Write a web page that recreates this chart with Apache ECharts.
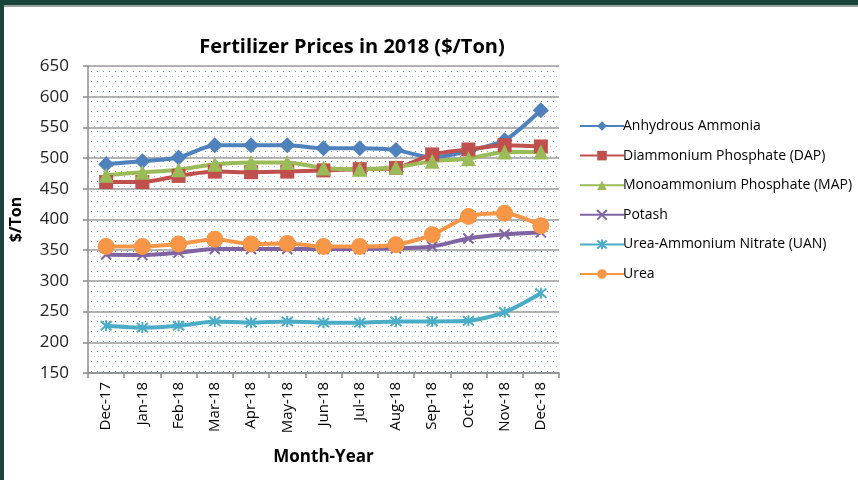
<!DOCTYPE html>
<html>
<head>
<meta charset="utf-8">
<script src="https://cdn.jsdelivr.net/npm/echarts@6/dist/echarts.min.js"></script>
<style>
html,body{margin:0;padding:0;background:#fff;}
#c{width:858px;height:480px;}
</style>
</head>
<body>
<div id="c"></div>
<script>
var categories = ['Dec-17','Jan-18','Feb-18','Mar-18','Apr-18','May-18','Jun-18','Jul-18','Aug-18','Sep-18','Oct-18','Nov-18','Dec-18'];
var anhydrousAmmonia = [490, 495, 501, 521, 521, 521, 516, 516, 513, 501, 512, 529, 578];
var dap = [461, 461, 471, 478, 477, 478, 480, 482, 484, 506, 514, 521, 519];
var map = [472, 477, 481, 490, 493, 493, 484, 482, 485, 495, 499, 510, 510];
var potash = [343, 342, 346, 352, 352, 352, 352, 352, 353, 356, 369, 376, 379];
var uan = [227, 224, 227, 234, 232, 234, 232, 232, 234, 234, 235, 249, 280];
var urea = [356, 356, 360, 368, 360, 361, 356, 356, 359, 375, 405, 410, 390];
var yTicks = {min:150, max:650, interval:50};

var FONT = '"Open Sans", "Noto Sans", sans-serif';

// dotted plot background pattern
var pc = document.createElement('canvas');
pc.width = 12; pc.height = 10;
var pctx = pc.getContext('2d');
pctx.fillStyle = '#ffffff';
pctx.fillRect(0,0,12,10);
pctx.fillStyle = 'rgba(80,120,200,0.8)';
pctx.fillRect(1,1,1,1);
pctx.fillRect(7,1,1,1);
pctx.fillStyle = 'rgba(80,120,200,0.5)';
pctx.fillRect(4,6,1,1);
pctx.fillRect(10,6,1,1);

var xPath = 'path://M0,0L10,10M10,0L0,10';
var starPath = 'path://M0,0L10,10M10,0L0,10M5,-1L5,11';

function mk(name, data, color, symbol, size, extra){
  var s = {
    name: name, type: 'line', data: data, smooth: 0.25,
    symbol: symbol, symbolSize: size,
    lineStyle: {color: color, width: 4},
    itemStyle: {color: color},
    z: 3
  };
  if (extra) { s.itemStyle = {color: 'rgba(0,0,0,0)', borderColor: color, borderWidth: 2}; }
  return s;
}

var chart = echarts.init(document.getElementById('c'), null, {renderer:'canvas'});
chart.setOption({
  animation: false,
  backgroundColor: '#ffffff',
  color: ['#4F81BD','#C0504D','#9BBB59','#8064A2','#4BACC6','#F79646'],
  title: {
    text: 'Fertilizer Prices in 2018 ($/Ton)',
    left: 347, top: 32, textAlign: 'center',
    textStyle: {fontFamily: FONT, fontWeight: 'bold', fontSize: 20, color: '#000'}
  },
  grid: {left: 81, right: 299, top: 66, bottom: 107, show: true,
    backgroundColor: {image: pc, repeat: 'repeat'}, borderWidth: 0},
  legend: {
    orient: 'vertical', left: 574, top: 112, itemGap: 11.6,
    itemWidth: 44, itemHeight: 12,
    textStyle: {fontFamily: FONT, fontSize: 14, color: '#000', padding: [0,0,0,-6], lineHeight: 18},
    data: ['Anhydrous Ammonia','Diammonium Phosphate (DAP)','Monoammonium Phosphate (MAP)','Potash','Urea-Ammonium Nitrate (UAN)','Urea']
  },
  xAxis: {
    type: 'category', data: categories, boundaryGap: true,
    name: 'Month-Year', nameLocation: 'middle', nameGap: 76,
    nameTextStyle: {fontFamily: FONT, fontWeight: 'bold', fontSize: 17, color: '#000'},
    axisLine: {lineStyle: {color: '#8c8c8c', width: 1.5}},
    axisTick: {show: true, interval: 0, length: 5, lineStyle: {color: '#8c8c8c', width: 1.5}},
    axisLabel: {rotate: 90, interval: 0, fontFamily: FONT, fontSize: 15, color: '#000', margin: 9}
  },
  yAxis: {
    type: 'value', min: yTicks.min, max: yTicks.max, interval: yTicks.interval,
    name: '$/Ton', nameLocation: 'middle', nameGap: 64, nameRotate: 90,
    nameTextStyle: {fontFamily: FONT, fontWeight: 'bold', fontSize: 16, color: '#000'},
    axisLine: {show: true, lineStyle: {color: '#8c8c8c', width: 1.5}},
    axisTick: {show: true, length: 5, lineStyle: {color: '#8c8c8c', width: 1.5}},
    axisLabel: {fontFamily: FONT, fontSize: 17, color: '#222', margin: 19},
    splitLine: {lineStyle: {color: '#9a9a9a', width: 1.5}}
  },
  graphic: [
    {type:'rect', shape:{x:0,y:0,width:858,height:5}, style:{fill:'#1a4339'}, z:100},
    {type:'rect', shape:{x:0,y:5,width:858,height:2}, style:{fill:'#9aa5a2'}, z:100},
    {type:'rect', shape:{x:0,y:0,width:4,height:480}, style:{fill:'#1a4339'}, z:100}
  ],
  series: [
    mk('Anhydrous Ammonia', anhydrousAmmonia, '#4F81BD', 'diamond', 16),
    mk('Diammonium Phosphate (DAP)', dap, '#C0504D', 'rect', 14),
    mk('Monoammonium Phosphate (MAP)', map, '#9BBB59', 'triangle', 15),
    mk('Potash', potash, '#8064A2', xPath, 10, true),
    mk('Urea-Ammonium Nitrate (UAN)', uan, '#4BACC6', starPath, 11, true),
    mk('Urea', urea, '#F79646', 'circle', 17)
  ]
});
</script>
</body>
</html>
